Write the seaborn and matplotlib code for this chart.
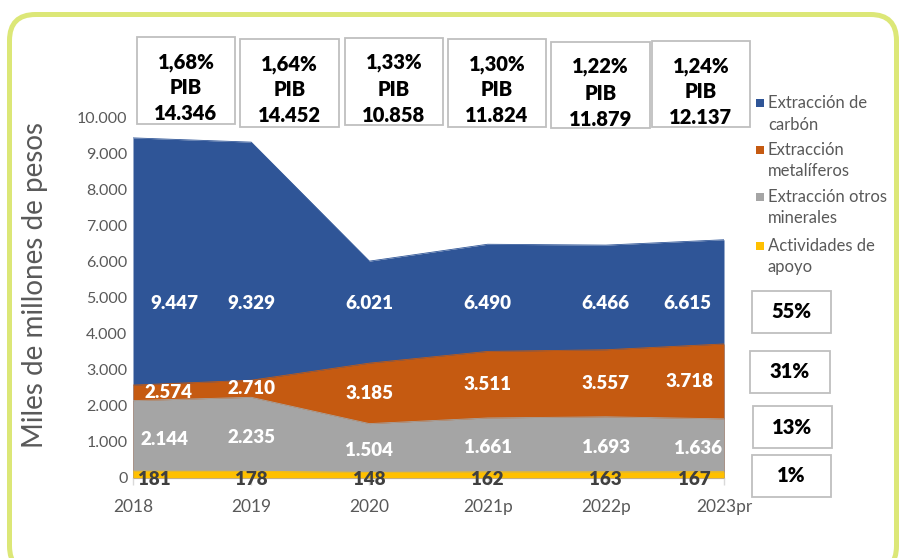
import matplotlib
matplotlib.use("Agg")
import matplotlib.pyplot as plt
from matplotlib.patches import Rectangle, FancyBboxPatch
from matplotlib.transforms import IdentityTransform
import seaborn as sns
import pandas as pd
import numpy as np

# ---------------- data ----------------
years = ["2018", "2019", "2020", "2021p", "2022p", "2023pr"]
carbon = [9447, 9329, 6021, 6490, 6466, 6615]
metaliferos = [2574, 2710, 3185, 3511, 3557, 3718]
otros_minerales = [2144, 2235, 1504, 1661, 1693, 1636]
apoyo = [181, 178, 148, 162, 163, 167]
pib_share = ["1,68%", "1,64%", "1,33%", "1,30%", "1,22%", "1,24%"]
totals = ["14.346", "14.452", "10.858", "11.824", "11.879", "12.137"]
series_names = ["Extracción de\ncarbón", "Extracción\nmetalíferos",
                "Extracción otros\nminerales", "Actividades de\napoyo"]
shares_2023 = ["55%", "31%", "13%", "1%"]

colors = ["#2F5597", "#C55A11", "#A5A5A5", "#FFC000"]

sns.set_theme(style="white")
plt.rcParams["font.family"] = ["Lato", "DejaVu Sans"]

W, H = 903, 558
fig = plt.figure(figsize=(W / 100, H / 100), dpi=100)
fig.patch.set_facecolor("white")

def fx(px):
    return px / W

def fy(py):
    return 1 - py / H

# outer rounded frame (pixel coordinates)
frame = FancyBboxPatch((9.5, H - 572), 887, 572 - 14.5,
                       boxstyle="round,pad=0,rounding_size=26",
                       transform=IdentityTransform(), fill=False,
                       edgecolor="#DCE777", linewidth=3.6)
fig.patches.append(frame)

# axes
x0, x1, y0, y10 = 133, 724, 477.7, 118
ax = fig.add_axes([fx(x0), fy(y0), (x1 - x0) / W, (y0 - y10) / H])

df = pd.DataFrame({"year": years, "idx": np.arange(len(years)),
                   "carbon": carbon, "metaliferos": metaliferos,
                   "otros": otros_minerales, "apoyo": apoyo})

cols = ["carbon", "metaliferos", "otros", "apoyo"]
for c, col in zip(cols, colors):
    ax.fill_between(df["idx"], 0, df[c], color=col, linewidth=0, zorder=2)
    sns.lineplot(data=df, x="idx", y=c, color=col, linewidth=0.6, ax=ax, zorder=2)

ax.set_xlim(0, len(years) - 1)
ax.set_ylim(0, 10000)
ax.set_xticks(df["idx"])
ax.set_xticklabels(years)
ax.set_yticks(np.arange(0, 10001, 1000))
ax.set_yticklabels([f"{v:,.0f}".replace(",", ".") for v in np.arange(0, 10001, 1000)])
ax.set_xlabel("")
ax.set_ylabel("")
for s in ["top", "right", "left"]:
    ax.spines[s].set_visible(False)
ax.spines["bottom"].set_color("#D9D9D9")
ax.spines["bottom"].set_linewidth(1.0)
ax.spines["bottom"].set_zorder(1)
ax.tick_params(axis="y", length=0, pad=4, labelsize=11.5, labelcolor="#595959")
ax.tick_params(axis="x", length=5, width=1, color="#D9D9D9", direction="out",
               pad=10, labelsize=12.5, labelcolor="#595959", bottom=True)
ax.grid(False)
ax.patch.set_alpha(0)

# data labels
n = len(years)
shifts = {"carbon": (0.35, -0.31), "metaliferos": (0.30, -0.29),
          "otros": (0.27, -0.22), "apoyo": (0.18, -0.25)}

def sh(key, i):
    if i == 0:
        return shifts[key][0]
    if i == n - 1:
        return shifts[key][1]
    return 0.0

def fmt(v):
    return f"{v:,.0f}".replace(",", ".")

lab_kw = dict(ha="center", va="center", fontsize=13.5, fontweight="heavy", zorder=5)
for i in range(n):
    ax.text(i + sh("carbon", i), 4830, fmt(carbon[i]), color="white", **lab_kw)
    ax.text(i + sh("metaliferos", i), (otros_minerales[i] + metaliferos[i]) / 2,
            fmt(metaliferos[i]), color="white", **lab_kw)
    ax.text(i + sh("otros", i), otros_minerales[i] / 2, fmt(otros_minerales[i]),
            color="white", **lab_kw)
    ax.text(i + sh("apoyo", i), -40, fmt(apoyo[i]), color="#404040", **lab_kw)

# y axis title
fig.text(fx(35), fy(285), "Miles de millones de pesos", rotation=90,
         ha="center", va="center", fontsize=20, color="#595959")

# PIB boxes
boxes = [(137, 37, 235, 124), (240, 39, 339, 127), (345, 38, 443, 125),
         (448, 39, 546, 127), (551, 42, 650, 128), (652, 41, 750, 127)]
for (l, t, r, b), p, tot in zip(boxes, pib_share, totals):
    fig.patches.append(Rectangle((fx(l), fy(b)), fx(r) - fx(l), fy(t) - fy(b),
                                 transform=fig.transFigure, fill=False,
                                 edgecolor="#BFBFBF", linewidth=1.3))
    cx = (l + r) / 2
    for k, txt in enumerate([p, "PIB", tot]):
        fig.text(fx(cx), fy(t + 25 + 26 * k), txt, ha="center", va="center",
                 fontsize=14.5, fontweight="heavy", color="black")

# legend
leg_y = [103, 150, 197, 246]
for yy, name, col in zip(leg_y, series_names, colors):
    fig.patches.append(Rectangle((fx(756), fy(yy + 4)), 8 / W, 8 / H,
                                 transform=fig.transFigure, facecolor=col,
                                 edgecolor="none"))
    for k, line in enumerate(name.split("\n")):
        fig.text(fx(768), fy(yy + 21.5 * k), line, ha="left", va="center",
                 fontsize=12, color="#595959")

# share boxes
pboxes = [(752, 291, 831, 333), (750, 351, 830, 393), (753, 406, 832, 448),
          (752, 455, 831, 497)]
for (l, t, r, b), s in zip(pboxes, shares_2023):
    fig.patches.append(Rectangle((fx(l), fy(b)), fx(r) - fx(l), fy(t) - fy(b),
                                 transform=fig.transFigure, fill=False,
                                 edgecolor="#BFBFBF", linewidth=1.3))
    fig.text(fx((l + r) / 2), fy((t + b) / 2), s, ha="center", va="center",
             fontsize=14.5, fontweight="heavy", color="black")

fig.savefig("out.png", dpi=100)
